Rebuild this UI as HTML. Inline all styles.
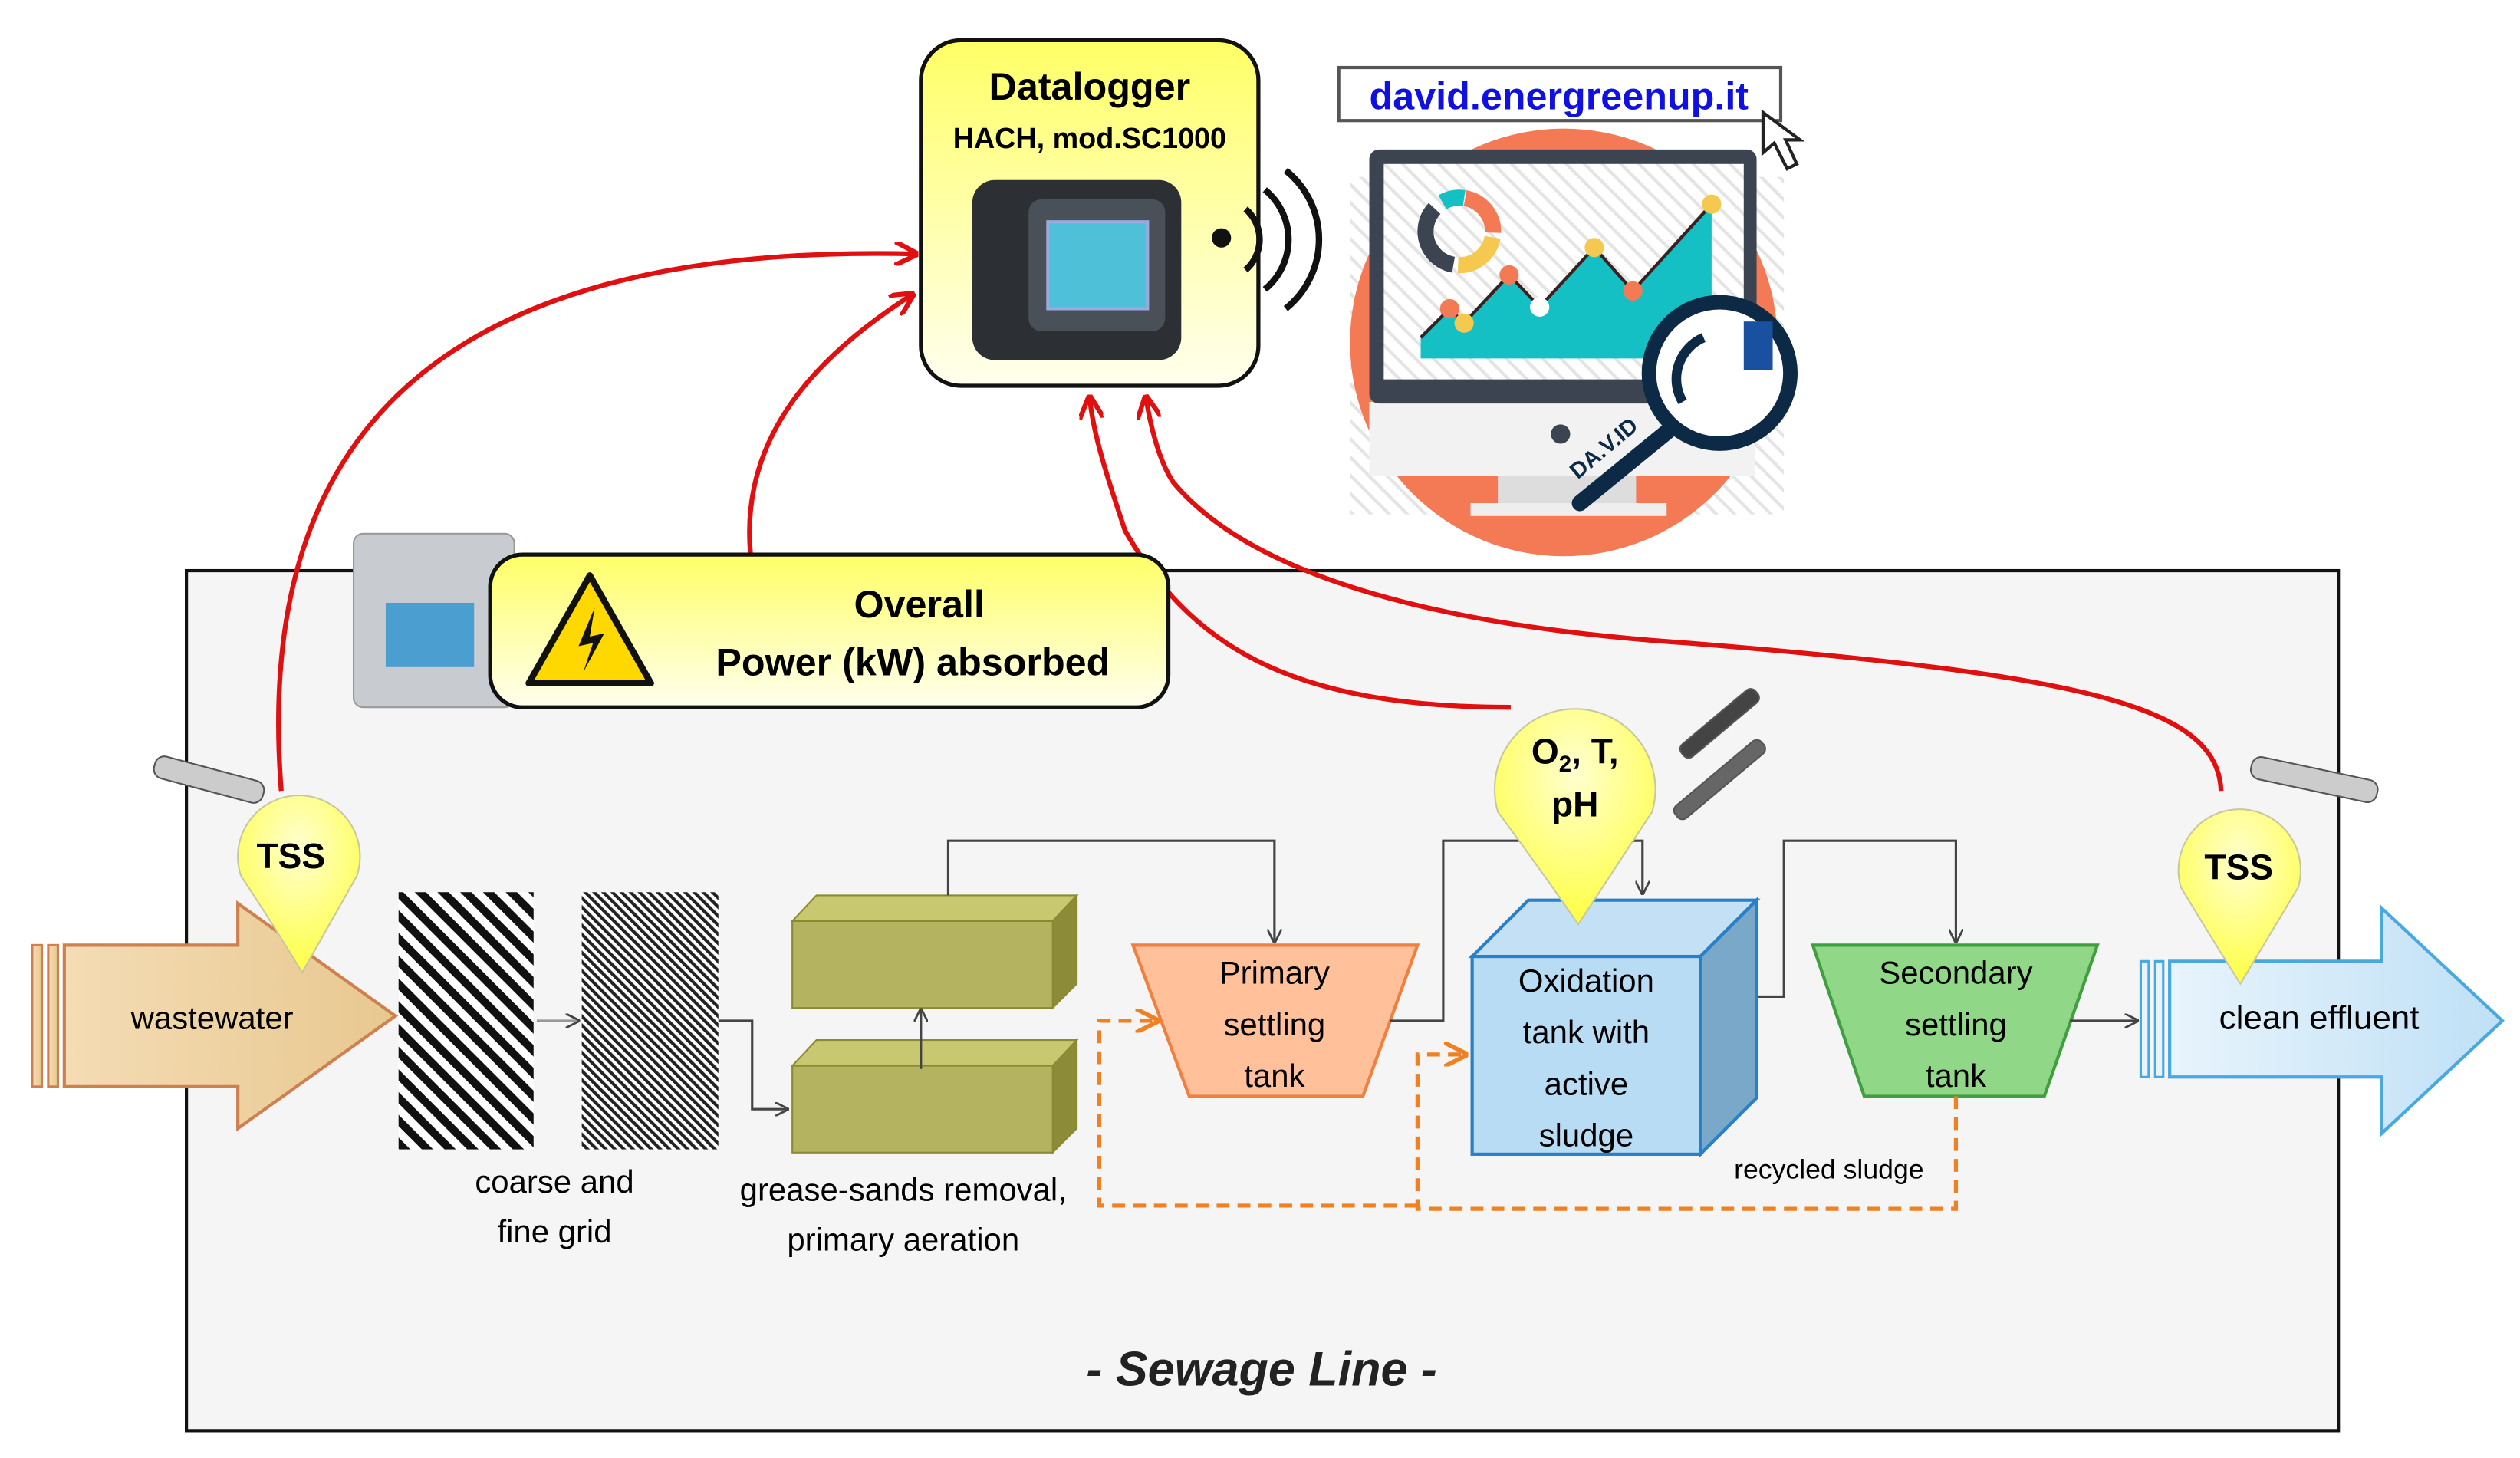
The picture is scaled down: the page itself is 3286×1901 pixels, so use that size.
<!DOCTYPE html>
<html><head><meta charset="utf-8"><style>html,body{margin:0;padding:0;background:#fff}svg{display:block}</style></head>
<body>
<svg width="3286" height="1901" viewBox="0 0 1568 907" preserveAspectRatio="none" xmlns="http://www.w3.org/2000/svg" font-family="Liberation Sans, sans-serif">
<defs>
<linearGradient id="yl" x1="0" y1="0" x2="0" y2="1"><stop offset="0" stop-color="#ffff66"/><stop offset="1" stop-color="#ffffee"/></linearGradient>
<radialGradient id="bal" cx="0.5" cy="0.3" r="0.7"><stop offset="0" stop-color="#ffffd0"/><stop offset="1" stop-color="#ffff44"/></radialGradient>
<linearGradient id="ww" x1="0" y1="0" x2="1" y2="0"><stop offset="0" stop-color="#f4dcb4"/><stop offset="1" stop-color="#e8c890"/></linearGradient>
<linearGradient id="ce" x1="0" y1="0" x2="1" y2="0"><stop offset="0" stop-color="#e8f4fc"/><stop offset="1" stop-color="#bfe0f6"/></linearGradient>
<pattern id="h1" width="10" height="10" patternUnits="userSpaceOnUse" patternTransform="rotate(-45)"><rect width="10" height="10" fill="#fff"/><rect width="5" height="10" fill="#111"/></pattern>
<pattern id="h2" width="4" height="4" patternUnits="userSpaceOnUse" patternTransform="rotate(-45)"><rect width="4" height="4" fill="#fff"/><rect width="2" height="4" fill="#222"/></pattern>
<pattern id="hs" width="8" height="8" patternUnits="userSpaceOnUse" patternTransform="rotate(-45)"><rect width="8" height="8" fill="#fff"/><rect width="2" height="8" fill="#e4e4e4"/></pattern>
<marker id="ar" viewBox="0 0 10 10" refX="9" refY="5" markerWidth="5" markerHeight="5" orient="auto"><path d="M0,0 L10,5 L0,10" fill="none" stroke="#e01010" stroke-width="2"/></marker>
<marker id="ak" viewBox="0 0 10 10" refX="9" refY="5" markerWidth="6" markerHeight="6" orient="auto"><path d="M0,0 L10,5 L0,10" fill="none" stroke="#444" stroke-width="1.5"/></marker>
<marker id="ao" viewBox="0 0 10 10" refX="9" refY="5" markerWidth="6" markerHeight="6" orient="auto"><path d="M0,0 L10,5 L0,10" fill="none" stroke="#f08020" stroke-width="1.8"/></marker>
</defs>
<rect width="1568" height="907" fill="#fff"/>
<!-- sewage box -->
<rect x="116" y="355" width="1339" height="535" fill="#f5f5f5" stroke="#111" stroke-width="2"/>
<text x="785" y="862" text-anchor="middle" font-size="30" font-style="italic" font-weight="bold" fill="#222">- Sewage Line -</text>

<!-- website -->
<rect x="840" y="110" width="270" height="210" fill="url(#hs)"/>
<circle cx="973" cy="213" r="133" fill="#f47a55"/>
<rect x="852" y="250" width="240" height="46" fill="#f2f2f2"/>
<circle cx="971" cy="270" r="6" fill="#3b4450"/>
<rect x="932" y="296" width="86" height="17" fill="#ddd"/>
<rect x="915" y="313" width="122" height="8" fill="#eee"/>
<rect x="852" y="93" width="241" height="158" rx="6" fill="#3b4450"/>
<rect x="861" y="102" width="224" height="134" fill="url(#hs)"/>
<polygon points="884,210 902,192 911,201 939,171 958,191 992,154 1016,181 1065,127 1065,223 884,223" fill="#14c0c4"/>
<polyline points="884,210 902,192 911,201 939,171 958,191 992,154 1016,181 1065,127" fill="none" stroke="#3b2020" stroke-width="2"/>
<circle cx="902" cy="192" r="6" fill="#f47a55"/><circle cx="939" cy="171" r="6" fill="#f47a55"/><circle cx="1016" cy="181" r="6" fill="#f47a55"/><circle cx="911" cy="201" r="6" fill="#f5c850"/><circle cx="992" cy="154" r="6" fill="#f5c850"/><circle cx="1065" cy="127" r="6" fill="#f5c850"/><circle cx="958" cy="191" r="6" fill="#fff"/>
<circle cx="908" cy="144" r="21" fill="none" stroke="#3b4450" stroke-width="10" stroke-dasharray="45 100" transform="rotate(100 908 144)"/>
<circle cx="908" cy="144" r="21" fill="none" stroke="#f47a55" stroke-width="10" stroke-dasharray="30 110" transform="rotate(-80 908 144)"/>
<circle cx="908" cy="144" r="21" fill="none" stroke="#f5c850" stroke-width="10" stroke-dasharray="30 110" transform="rotate(10 908 144)"/>
<circle cx="908" cy="144" r="21" fill="none" stroke="#14c0c4" stroke-width="10" stroke-dasharray="14 130" transform="rotate(-120 908 144)"/>
<circle cx="1070" cy="232" r="44" fill="#fff" stroke="#0c2a45" stroke-width="9"/>
<path d="M1047,250 A28,28 0 0 1 1060,210" fill="none" stroke="#0c2a45" stroke-width="6"/>
<line x1="1038" y1="268" x2="983" y2="313" stroke="#0c2a45" stroke-width="10" stroke-linecap="round"/>
<text x="975" y="290" font-size="14" font-weight="bold" fill="#0c2a45" transform="rotate(-40 990 285)">DA.V.ID</text>
<rect x="1085" y="200" width="18" height="30" fill="#1a50a0"/>
<rect x="833" y="42" width="275" height="33" fill="#fff" stroke="#555" stroke-width="2"/>
<text x="970" y="68" text-anchor="middle" font-size="24" font-weight="bold" fill="#1010e0">david.energreenup.it</text>
<path d="M1097,70 L1097,95 L1104,89 L1112,105 L1118,102 L1111,87 L1120,87 Z" fill="#fff" stroke="#222" stroke-width="2"/>

<!-- red curves -->
<g fill="none" stroke="#e01010" stroke-width="3">
<path d="M175,492 C160,300 240,150 570,158" marker-end="url(#ar)"/>
<path d="M467,345 C460,270 510,220 568,183" marker-end="url(#ar)"/>
<path d="M940,440 C800,440 740,400 700,330 C690,300 680,270 678,247" marker-end="url(#ar)"/>
<path d="M1382,492 C1380,440 1300,420 1050,400 C900,390 780,360 730,300 C720,285 715,260 713,247" marker-end="url(#ar)"/>
</g>

<!-- datalogger -->
<rect x="573" y="25" width="210" height="215" rx="25" fill="url(#yl)" stroke="#111" stroke-width="2.5"/>
<text x="678" y="62" text-anchor="middle" font-size="24" font-weight="bold">Datalogger</text>
<text x="678" y="92" text-anchor="middle" font-size="18" font-weight="bold">HACH, mod.SC1000</text>
<rect x="605" y="112" width="130" height="112" rx="14" fill="#2c2f33"/>
<rect x="640" y="124" width="85" height="82" rx="8" fill="#4a5058"/>
<rect x="652" y="138" width="62" height="54" fill="#4ec0d8" stroke="#9ad" stroke-width="2"/>
<circle cx="760" cy="148" r="6" fill="#111"/>
<g fill="none" stroke="#111" stroke-width="4"><path d="M775,130 A25,25 0 0 1 775,168"/><path d="M787,118 A40,40 0 0 1 787,180"/><path d="M800,106 A55,55 0 0 1 800,192"/></g>

<!-- power box -->
<rect x="220" y="332" width="100" height="108" rx="6" fill="#c8ccd0" stroke="#999"/>
<rect x="240" y="375" width="55" height="40" fill="#4a9fd0"/>
<rect x="305" y="345" width="422" height="95" rx="20" fill="url(#yl)" stroke="#111" stroke-width="2.5"/>
<polygon points="367,358 405,425 329,425" fill="#ffd800" stroke="#111" stroke-width="4" stroke-linejoin="round"/>
<path d="M370,378 L360,402 L369,400 L363,418 L376,394 L367,396 Z" fill="#111"/>
<text x="572" y="384" text-anchor="middle" font-size="24" font-weight="bold">Overall</text>
<text x="568" y="420" text-anchor="middle" font-size="24" font-weight="bold">Power (kW) absorbed</text>

<!-- wastewater arrow -->
<path d="M40,588 L148,588 L148,562 L246,632 L148,702 L148,676 L40,676 Z" fill="url(#ww)" stroke="#d08050" stroke-width="2"/>
<rect x="20" y="588" width="6" height="88" fill="url(#ww)" stroke="#d08050" stroke-width="1.5"/>
<rect x="30" y="588" width="6" height="88" fill="url(#ww)" stroke="#d08050" stroke-width="1.5"/>
<text x="132" y="640" text-anchor="middle" font-size="20">wastewater</text>

<!-- clean effluent -->
<path d="M1350,598 L1482,598 L1482,565 L1557,635 L1482,705 L1482,670 L1350,670 Z" fill="url(#ce)" stroke="#4aa8e0" stroke-width="2"/>
<rect x="1332" y="598" width="5" height="72" fill="#e8f4fc" stroke="#4aa8e0" stroke-width="1.5"/>
<rect x="1341" y="598" width="5" height="72" fill="#e8f4fc" stroke="#4aa8e0" stroke-width="1.5"/>
<text x="1443" y="640" text-anchor="middle" font-size="21">clean effluent</text>

<!-- grids -->
<rect x="248" y="555" width="84" height="160" fill="url(#h1)"/>
<rect x="362" y="555" width="85" height="160" fill="url(#h2)"/>
<line x1="334" y1="635" x2="360" y2="635" stroke="#999" stroke-width="1.5" marker-end="url(#ak)"/>
<text x="345" y="742" text-anchor="middle" font-size="20">coarse and</text>
<text x="345" y="773" text-anchor="middle" font-size="20">fine grid</text>
<polyline points="447,635 468,635 468,690 490,690" fill="none" stroke="#444" stroke-width="1.5" marker-end="url(#ak)"/>

<!-- grease boxes -->
<g stroke="#8a8a30" stroke-width="1">
<polygon points="493,573 508,557 670,557 655,573" fill="#c8c870"/>
<polygon points="655,573 670,557 670,612 655,627" fill="#8c8c38"/>
<rect x="493" y="573" width="162" height="54" fill="#b4b460"/>
<polygon points="493,663 508,647 670,647 655,663" fill="#c8c870"/>
<polygon points="655,663 670,647 670,702 655,717" fill="#8c8c38"/>
<rect x="493" y="663" width="162" height="54" fill="#b4b460"/>
</g>
<line x1="573" y1="665" x2="573" y2="628" stroke="#444" stroke-width="1.5" marker-end="url(#ak)"/>
<text x="562" y="747" text-anchor="middle" font-size="20">grease-sands removal,</text>
<text x="562" y="778" text-anchor="middle" font-size="20">primary aeration</text>
<polyline points="590,557 590,523 793,523 793,586" fill="none" stroke="#444" stroke-width="1.5" marker-end="url(#ak)"/>

<!-- primary -->
<polygon points="705,588 882,588 848,682 740,682" fill="#ffc09a" stroke="#f08040" stroke-width="2"/>
<text x="793" y="612" text-anchor="middle" font-size="20">Primary</text>
<text x="793" y="644" text-anchor="middle" font-size="20">settling</text>
<text x="793" y="676" text-anchor="middle" font-size="20">tank</text>
<polyline points="865,635 898,635 898,523 1022,523 1022,556" fill="none" stroke="#444" stroke-width="1.5" marker-end="url(#ak)"/>

<!-- oxidation cube -->
<polygon points="916,595 951,560 1093,560 1058,595" fill="#c4e0f4" stroke="#2a80c8" stroke-width="2"/>
<polygon points="1058,595 1093,560 1093,683 1058,718" fill="#7aa8c8" stroke="#2a80c8" stroke-width="2"/>
<rect x="916" y="595" width="142" height="123" fill="#b8dcf4" stroke="#2a80c8" stroke-width="2"/>
<text x="987" y="617" text-anchor="middle" font-size="20">Oxidation</text>
<text x="987" y="649" text-anchor="middle" font-size="20">tank with</text>
<text x="987" y="681" text-anchor="middle" font-size="20">active</text>
<text x="987" y="713" text-anchor="middle" font-size="20">sludge</text>
<polyline points="1094,620 1110,620 1110,523 1217,523 1217,586" fill="none" stroke="#444" stroke-width="1.5" marker-end="url(#ak)"/>

<!-- secondary -->
<polygon points="1128,588 1305,588 1272,682 1160,682" fill="#90d888" stroke="#40a040" stroke-width="2"/>
<text x="1217" y="612" text-anchor="middle" font-size="20">Secondary</text>
<text x="1217" y="644" text-anchor="middle" font-size="20">settling</text>
<text x="1217" y="676" text-anchor="middle" font-size="20">tank</text>
<line x1="1288" y1="635" x2="1330" y2="635" stroke="#444" stroke-width="1.5" marker-end="url(#ak)"/>
<text x="1138" y="733" text-anchor="middle" font-size="17">recycled sludge</text>

<!-- dashed orange -->
<g fill="none" stroke="#f08020" stroke-width="2.5" stroke-dasharray="8 5">
<polyline points="1217,682 1217,752 882,752 882,656 912,656" marker-end="url(#ao)"/>
<polyline points="882,750 684,750 684,635 720,635" marker-end="url(#ao)"/>
</g>

<!-- sensors -->
<g stroke="#555" stroke-width="1">
<rect x="95" y="478" width="70" height="14" rx="6" fill="#ccc" transform="rotate(15 130 485)"/>
<rect x="1400" y="478" width="80" height="14" rx="6" fill="#ccc" transform="rotate(12 1440 485)"/>
<rect x="1040" y="445" width="60" height="10" rx="4" fill="#444" transform="rotate(-40 1070 450)"/>
<rect x="1035" y="480" width="70" height="10" rx="4" fill="#666" transform="rotate(-40 1070 485)"/>
</g>

<!-- balloons -->
<path d="M150,545 A38,38 0 1 1 222,545 Q205,575 188,605 Q170,575 150,545 Z" fill="url(#bal)" stroke="#c8c8a0" stroke-width="1"/>
<text x="181" y="540" text-anchor="middle" font-size="22" font-weight="bold">TSS</text>
<path d="M1357,552 A38,38 0 1 1 1430,552 Q1412,582 1394,612 Q1375,582 1357,552 Z" fill="url(#bal)" stroke="#c8c8a0" stroke-width="1"/>
<text x="1393" y="547" text-anchor="middle" font-size="22" font-weight="bold">TSS</text>
<path d="M932,505 A50,50 0 1 1 1028,505 Q1005,540 982,575 Q958,540 932,505 Z" fill="url(#bal)" stroke="#c8c8a0" stroke-width="1"/>
<text x="980" y="475" text-anchor="middle" font-size="22" font-weight="bold">O<tspan font-size="14" dy="5">2</tspan><tspan dy="-5">, T,</tspan></text>
<text x="980" y="508" text-anchor="middle" font-size="22" font-weight="bold">pH</text>
</svg>
</body></html>
